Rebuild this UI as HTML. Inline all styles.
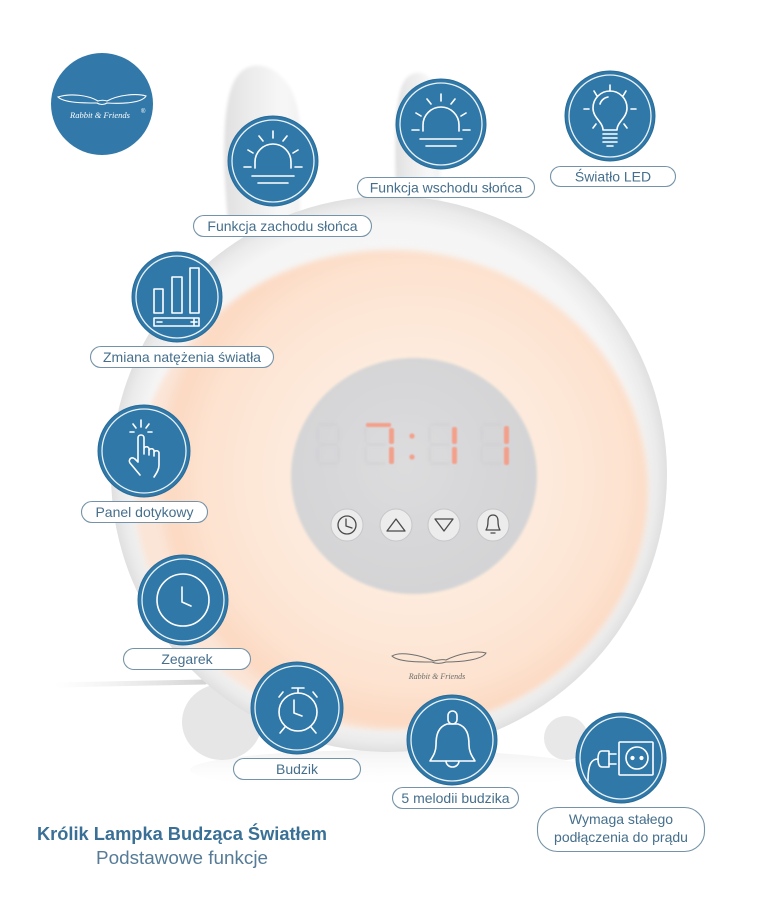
<!DOCTYPE html>
<html><head><meta charset="utf-8"><style>
html,body{margin:0;padding:0;background:#fff;}
svg{display:block;}
.lbl{font-family:"Liberation Sans",Arial,sans-serif;font-size:14px;fill:#456f8c;text-anchor:middle;}
.pill{fill:#fff;stroke:#7593a8;stroke-width:1.1;}
.ic{fill:none;stroke:#fff;stroke-width:1.6;stroke-linecap:round;stroke-linejoin:round;}
.ring{fill:none;stroke:#fff;stroke-width:1.3;opacity:.9;}
.bc{fill:#2f78a8;stroke:#2a6b97;stroke-width:1;}
.btn{fill:#ececed;stroke:#c6c6c8;stroke-width:1;}
.bi{fill:none;stroke:#4a4a4a;stroke-width:1.3;stroke-linejoin:round;stroke-linecap:round;}
</style></head><body>
<svg width="760" height="905" viewBox="0 0 760 905" xmlns="http://www.w3.org/2000/svg">
<defs>
<radialGradient id="body" cx="389" cy="474" r="278" gradientUnits="userSpaceOnUse">
<stop offset="0" stop-color="#fafafa"/><stop offset="0.9" stop-color="#f5f5f5"/><stop offset="0.965" stop-color="#ebebeb"/><stop offset="1" stop-color="#e0e0e0"/>
</radialGradient>
<radialGradient id="glow" cx="414" cy="476" r="262" gradientUnits="userSpaceOnUse">
<stop offset="0" stop-color="#fdeee3"/><stop offset="0.5" stop-color="#fdeadc"/><stop offset="0.82" stop-color="#fde2cf"/><stop offset="0.94" stop-color="#fcd9c2"/><stop offset="1" stop-color="#fbe5d7"/>
</radialGradient>
<radialGradient id="disc" cx="405" cy="465" r="125" gradientUnits="userSpaceOnUse">
<stop offset="0" stop-color="#dcdcde"/><stop offset="1" stop-color="#d4d4d6"/>
</radialGradient>
<linearGradient id="cable" x1="0" x2="1" y1="0" y2="0">
<stop offset="0" stop-color="#e4e4e4" stop-opacity="0"/><stop offset="1" stop-color="#d3d3d3"/>
</linearGradient>
<linearGradient id="ear" x1="0" x2="1" y1="0" y2="0">
<stop offset="0" stop-color="#e0e0e0"/><stop offset="0.35" stop-color="#ececec"/><stop offset="0.75" stop-color="#f7f7f7"/><stop offset="1" stop-color="#f2f2f2"/>
</linearGradient>
<linearGradient id="refl" x1="0" x2="0" y1="0" y2="1">
<stop offset="0" stop-color="#efefef"/><stop offset="1" stop-color="#ffffff" stop-opacity="0"/>
</linearGradient>
<filter id="b3" x="-10%" y="-10%" width="120%" height="120%"><feGaussianBlur stdDeviation="3"/></filter>
<filter id="b2" x="-10%" y="-10%" width="120%" height="120%"><feGaussianBlur stdDeviation="1.5"/></filter>
<filter id="b1"><feGaussianBlur stdDeviation="1.2"/></filter>
<filter id="b06"><feGaussianBlur stdDeviation="0.7"/></filter>
</defs>

<!-- reflection under lamp -->
<ellipse cx="390" cy="770" rx="200" ry="20" fill="url(#refl)" opacity="0.8"/>

<!-- ears -->
<path d="M228 220 C222 160 222 100 236 78 C245 63 262 62 276 72 C290 82 298 100 300 125 L300 220 Z" fill="url(#ear)" filter="url(#b2)"/>
<path d="M397 215 C394 150 394 95 405 80 C412 70 425 71 432 80 C438 90 440 110 440 130 L440 215 Z" fill="url(#ear)" filter="url(#b2)"/>

<!-- cable -->
<path d="M55 685 L205 682" stroke="url(#cable)" stroke-width="5" stroke-linecap="round"/>

<!-- feet -->
<ellipse cx="222" cy="722" rx="40" ry="38" fill="#e6e6e6"/>
<ellipse cx="566" cy="738" rx="22" ry="22" fill="#e8e8e8"/>

<!-- body -->
<circle cx="389" cy="474" r="278" fill="url(#body)"/>
<ellipse cx="391" cy="490" rx="257" ry="240" fill="url(#glow)" filter="url(#b3)"/>

<!-- display disc -->
<ellipse cx="414" cy="476" rx="123" ry="118" fill="url(#disc)" filter="url(#b1)"/>

<!-- ghost segments -->
<g fill="#cfcfd1" filter="url(#b1)" opacity="0.5">
<rect x="318" y="423" width="20" height="3"/><rect x="316" y="427" width="3" height="15"/><rect x="337" y="427" width="3" height="15"/><rect x="318" y="443" width="20" height="3"/><rect x="316" y="447" width="3" height="15"/><rect x="337" y="447" width="3" height="15"/><rect x="318" y="462" width="20" height="3"/>
<rect x="366" y="443" width="20" height="3"/><rect x="364" y="447" width="3" height="15"/><rect x="366" y="462" width="20" height="3"/><rect x="364" y="427" width="3" height="15"/>
<rect x="430" y="423" width="20" height="3"/><rect x="428" y="427" width="3" height="15"/><rect x="430" y="443" width="20" height="3"/><rect x="428" y="447" width="3" height="15"/><rect x="430" y="462" width="20" height="3"/>
<rect x="482" y="423" width="20" height="3"/><rect x="480" y="427" width="3" height="15"/><rect x="482" y="443" width="20" height="3"/><rect x="480" y="447" width="3" height="15"/><rect x="482" y="462" width="20" height="3"/>
</g>
<!-- red digits -->
<g fill="#f3a08b" filter="url(#b06)">
<rect x="366" y="423" width="25" height="4" rx="1.5"/>
<rect x="389" y="428" width="5" height="16" rx="2"/>
<rect x="389" y="447" width="5" height="17" rx="2"/>
<circle cx="412" cy="436" r="2.6"/><circle cx="412" cy="457" r="2.6"/>
<rect x="452" y="427" width="5" height="17" rx="2"/>
<rect x="452" y="447" width="5" height="17" rx="2"/>
<rect x="504" y="426" width="5" height="18" rx="2"/>
<rect x="504" y="447" width="5" height="18" rx="2"/>
</g>

<!-- buttons -->
<circle class="btn" cx="347" cy="525" r="16"/>
<circle class="bi" cx="347" cy="525" r="9"/><path class="bi" d="M346 519 L346 526 L352 528"/>
<circle class="btn" cx="396" cy="525" r="16"/>
<path class="bi" d="M387 531 L405 531 L396 519 Z"/>
<circle class="btn" cx="444" cy="525" r="16"/>
<path class="bi" d="M435 519 L453 519 L444 531 Z"/>
<circle class="btn" cx="493" cy="525" r="16"/>
<path class="bi" d="M486 530 C488 527 488 524 488 521 C488 517 490 515 493 515 C496 515 498 517 498 521 C498 524 498 527 500 530 Z"/><path class="bi" d="M491 533 L495 533"/>

<!-- lamp logo -->
<g fill="none" stroke="#6f6f6f" stroke-width="1">
<path d="M392 656 C400 651 420 655 434 661 C438 660 442 659 446 660 C458 654 476 650 486 653 C482 660 460 662 446 662 C440 664 436 664 432 662 C418 662 398 662 392 656 Z"/>
</g>
<text x="437" y="679" font-family="Liberation Serif, serif" font-style="italic" font-size="8" fill="#6a6a6a" text-anchor="middle">Rabbit &amp; Friends</text>

<!-- logo circle -->
<circle cx="102" cy="104" r="51" fill="#3278a9"/>
<g fill="none" stroke="#fff" stroke-width="1.1">
<path d="M58 97 C70 93 88 95 98 101 C101 100 104 100 107 101 C118 95 136 93 146 96 C142 103 122 104 107 103 C104 105 100 105 97 103 C84 103 64 103 58 97 Z"/>
</g>
<text x="100" y="118" font-family="Liberation Serif, serif" font-style="italic" font-size="8.5" fill="#fff" text-anchor="middle">Rabbit &amp; Friends</text>
<text x="141" y="113" font-family="Liberation Sans, sans-serif" font-size="6" fill="#fff">®</text>

<!-- Sunset circle -->
<circle class="bc" cx="273" cy="161" r="45"/><circle class="ring" cx="273" cy="161" r="41"/>
<g class="ic" transform="translate(273,161)">
<path d="M-18 7 L-18 1 A18 18 0 0 1 18 1 L18 7"/>
<path d="M0 -30 L0 -23 M-14 -25 L-10 -20 M14 -25 L10 -20 M-25 -11 L-20 -8 M25 -11 L20 -8 M-29 6 L-22 6 M29 6 L22 6"/>
<path d="M-21 15 L21 15 M-15 22 L15 22"/>
</g>
<!-- Sunrise circle -->
<circle class="bc" cx="441" cy="124" r="45"/><circle class="ring" cx="441" cy="124" r="41"/>
<g class="ic" transform="translate(441,124)">
<path d="M-18 7 L-18 1 A18 18 0 0 1 18 1 L18 7"/>
<path d="M0 -30 L0 -23 M-14 -25 L-10 -20 M14 -25 L10 -20 M-25 -11 L-20 -8 M25 -11 L20 -8 M-29 6 L-22 6 M29 6 L22 6"/>
<path d="M-21 15 L21 15 M-15 22 L15 22"/>
</g>
<!-- LED bulb -->
<circle class="bc" cx="610" cy="116" r="45"/><circle class="ring" cx="610" cy="116" r="41"/>
<g class="ic">
<path d="M603 130 C603 122 593 118 593 108 A17 17 0 0 1 627 108 C627 118 617 122 617 130 Z"/>
<path d="M600 104 A10 10 0 0 1 608 97"/>
<path d="M603 134 L617 134 M603 138 L617 138 M603 142 L617 142 M607 146 L613 146"/>
<path d="M610 85 L610 91 M594 91 L597 96 M626 91 L623 96 M584 109 L589 109 M636 109 L631 109 M593 128 L596 124 M627 128 L624 124"/>
</g>
<!-- intensity bars -->
<circle class="bc" cx="177" cy="297" r="45"/><circle class="ring" cx="177" cy="297" r="41"/>
<g class="ic" stroke-width="1.4">
<rect x="154" y="289" width="9" height="24"/><rect x="172" y="277" width="10" height="36"/><rect x="190" y="268" width="9" height="45"/>
<rect x="154" y="318" width="45" height="8"/>
<path d="M157 322 L162 322 M191 322 L197 322 M194 319 L194 325"/>
</g>
<!-- touch -->
<circle class="bc" cx="144" cy="451" r="46"/><circle class="ring" cx="144" cy="451" r="42"/>
<g class="ic" stroke-width="1.5">
<path d="M140 475 L130 463 C128 460 131 456 135 459 L138 462 L138 438 C138 434 144 434 144 438 L144 454 L144 449 C144 446 149 446 149 449 L149 455 L149 451 C149 448 154 448 154 451 L154 456 L154 453 C154 450 159 450 159 453 L159 465 C159 470 156 474 154 477"/>
<path d="M141 420 L141 427 M133 424 L136 428 M149 424 L146 428 M130 432 L134 432 M148 432 L152 432"/>
</g>
<!-- clock -->
<circle class="bc" cx="183" cy="600" r="45"/><circle class="ring" cx="183" cy="600" r="41"/>
<g class="ic">
<circle cx="183" cy="600" r="26"/>
<path d="M182 587 L182 602 L191 606"/>
</g>
<!-- alarm -->
<circle class="bc" cx="297" cy="708" r="46"/><circle class="ring" cx="297" cy="708" r="42"/>
<g class="ic" stroke-width="1.4">
<circle cx="298" cy="712" r="19"/>
<path d="M298 693 L298 689 M292 688 L304 688"/>
<path d="M279 697 L283 692 M317 697 L313 692"/>
<path d="M285 727 L280 733 M311 727 L316 733"/>
<path d="M294 700 L294 713 L302 716"/>
</g>
<!-- bell -->
<circle class="bc" cx="452" cy="740" r="45"/><circle class="ring" cx="452" cy="740" r="41"/>
<g class="ic" stroke-width="1.5">
<rect x="448" y="711" width="9" height="13" rx="4.5"/>
<path d="M447 724 C438 727 436 735 436 745 C436 752 433 756 430 761 L475 761 C472 756 469 752 469 745 C469 735 467 727 458 724 Z"/>
<path d="M446 761 A6.5 6 0 0 0 459 761"/>
</g>
<!-- plug -->
<circle class="bc" cx="621" cy="758" r="45"/><circle class="ring" cx="621" cy="758" r="41"/>
<g class="ic" stroke-width="1.5">
<rect x="619" y="742" width="34" height="33" rx="1"/>
<circle cx="637" cy="758" r="11"/>
<circle cx="632.5" cy="758" r="1.3" fill="#fff"/><circle cx="641.5" cy="758" r="1.3" fill="#fff"/>
<path d="M602 751 L609 751 L609 767 L602 767 C599 767 598 764 598 759 C598 754 599 751 602 751 Z"/>
<path d="M609 754 L616 754 M609 764 L616 764"/>
<path d="M598 759 C591 759 588 765 588 781"/>
</g>

<!-- labels -->
<rect class="pill" x="193.5" y="215.5" width="178" height="21" rx="10.5"/>
<text class="lbl" x="282.5" y="231">Funkcja zachodu słońca</text>
<rect class="pill" x="357.5" y="177.5" width="177" height="20" rx="10"/>
<text class="lbl" x="446" y="192.5">Funkcja wschodu słońca</text>
<rect class="pill" x="550.5" y="166.5" width="125" height="20" rx="10"/>
<text class="lbl" x="613" y="181.5">Światło LED</text>
<rect class="pill" x="90.5" y="346.5" width="183" height="21" rx="10.5"/>
<text class="lbl" x="182" y="362">Zmiana natężenia światła</text>
<rect class="pill" x="81.5" y="501.5" width="126" height="21" rx="10.5"/>
<text class="lbl" x="144.5" y="517">Panel dotykowy</text>
<rect class="pill" x="123.5" y="648.5" width="127" height="21" rx="10.5"/>
<text class="lbl" x="187" y="664">Zegarek</text>
<rect class="pill" x="233.5" y="758.5" width="127" height="21" rx="10.5"/>
<text class="lbl" x="297" y="774">Budzik</text>
<rect class="pill" x="392.5" y="787.5" width="126" height="21" rx="10.5"/>
<text class="lbl" x="455.5" y="803">5 melodii budzika</text>
<rect class="pill" x="537.5" y="807.5" width="167" height="44" rx="20"/>
<text class="lbl" x="621" y="824">Wymaga stałego</text>
<text class="lbl" x="621" y="842">podłączenia do prądu</text>

<!-- title -->
<text x="182" y="840" font-family="Liberation Sans, sans-serif" font-weight="bold" font-size="18" fill="#3a7096" text-anchor="middle" textLength="290" lengthAdjust="spacingAndGlyphs">Królik Lampka Budząca Światłem</text>
<text x="182" y="864" font-family="Liberation Sans, sans-serif" font-size="18" fill="#557b97" text-anchor="middle" textLength="172" lengthAdjust="spacingAndGlyphs">Podstawowe funkcje</text>
</svg>
</body></html>
